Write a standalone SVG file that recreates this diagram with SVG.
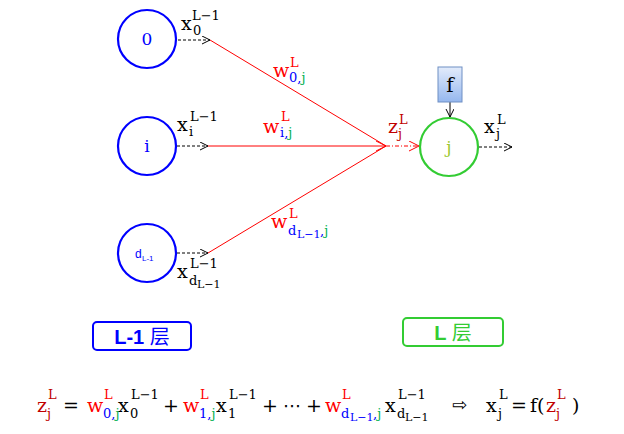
<svg xmlns="http://www.w3.org/2000/svg" width="624" height="434" viewBox="0 0 624 434">
<defs>
<marker id="ab" markerUnits="userSpaceOnUse" markerWidth="10" markerHeight="10" refX="8" refY="4" orient="auto">
<path d="M0,0 L8,4 L0,8" fill="none" stroke="#000" stroke-width="1"/>
</marker>
<marker id="ar" markerUnits="userSpaceOnUse" markerWidth="12" markerHeight="12" refX="10" refY="5" orient="auto">
<path d="M0,0 L10,5 L0,10" fill="none" stroke="#f00" stroke-width="1"/>
</marker>
<linearGradient id="fg" x1="0" y1="0" x2="0" y2="1">
<stop offset="0" stop-color="#e3ecfb"/>
<stop offset="1" stop-color="#95b7ee"/>
</linearGradient>
</defs>
<style>
.m{font-family:"DejaVu Serif","Liberation Serif",serif;font-size:19px}
.s{font-family:"DejaVu Serif","Liberation Serif",serif;font-size:13px}
.ss{font-family:"DejaVu Serif","Liberation Serif",serif;font-size:11px}
.k{fill:#000}
.r{fill:#f00}
.dr{fill:#c00000}
.b{fill:#00f}
.g{fill:#00b050}
.dash{stroke:#000;stroke-width:1;stroke-dasharray:3,2;fill:none}
.red{stroke:#f00;stroke-width:1;fill:none}
.bc{fill:#fff;stroke:#00f;stroke-width:2.2}
.gc{fill:#fff;stroke:#33cc33;stroke-width:2.2}
.lab{font-family:"Liberation Sans","Noto Sans CJK SC",sans-serif;font-size:20px}
</style>
<rect width="624" height="434" fill="#fff"/>

<g id="connectors">
<line class="dash" x1="178" y1="40" x2="210" y2="40" marker-end="url(#ab)"/>
<line class="dash" x1="177" y1="146" x2="208" y2="146" marker-end="url(#ab)"/>
<line class="dash" x1="177" y1="253" x2="208" y2="253" marker-end="url(#ab)"/>
<line class="red" x1="210" y1="40" x2="386" y2="146"/>
<line class="red" x1="208" y1="146" x2="386" y2="146" marker-end="url(#ar)"/>
<line class="red" x1="208" y1="253" x2="386" y2="146"/>
<line x1="386" y1="146" x2="419" y2="146" stroke="#f00" stroke-width="1" stroke-dasharray="4,2,1,2" marker-end="url(#ar)"/>
<line x1="450" y1="102" x2="450" y2="117" stroke="#000" stroke-width="1" marker-end="url(#ab)"/>
<line class="dash" x1="479" y1="147" x2="512" y2="147" marker-end="url(#ab)"/>
</g>

<g id="node-0">
<circle class="bc" cx="147" cy="39" r="29"/>
<text class="b" x="147" y="45" text-anchor="middle" font-family="DejaVu Serif,serif" font-size="17">0</text>
</g>
<g id="node-i">
<circle class="bc" cx="147" cy="146" r="29"/>
<text class="b" x="147" y="152" text-anchor="middle" font-family="DejaVu Serif,serif" font-size="17">i</text>
</g>
<g id="node-d">
<circle class="bc" cx="147" cy="253" r="29"/>
<text class="b" x="135" y="258" font-family="Liberation Sans,sans-serif" font-size="12">d</text>
<text class="b" x="142" y="261" font-family="Liberation Sans,sans-serif" font-size="8">L-1</text>
</g>
<g id="node-j">
<circle class="gc" cx="449" cy="147" r="29"/>
<text x="449" y="153" text-anchor="middle" font-family="DejaVu Serif,serif" font-size="17" fill="#9cc830">j</text>
</g>
<g id="node-f">
<rect x="438" y="67" width="24" height="35" fill="url(#fg)" stroke="#6f8fc4" stroke-width="1"/>
<text x="450" y="92" text-anchor="middle" font-family="DejaVu Serif,serif" font-size="20" fill="#000">f</text>
</g>

<g id="labels">
<text class="m k" x="181" y="30">x</text><text class="s k" x="193" y="35">0</text><text class="s k" x="192" y="20">L−1</text>
<text class="m k" x="177" y="131">x</text><text class="s k" x="189" y="136">i</text><text class="s k" x="190" y="121">L−1</text>
<text class="m k" x="177" y="278">x</text><text class="s k" x="190" y="268">L−1</text><text class="s k" x="189" y="285">d</text><text class="ss k" x="197" y="288">L−1</text>

<text class="m r" x="273" y="77">w</text><text class="s r" x="290" y="67">L</text><text class="s" x="289" y="82"><tspan class="b">0,</tspan><tspan class="g">j</tspan></text>
<text class="m r" x="263" y="133">w</text><text class="s r" x="281" y="121">L</text><text class="s" x="280" y="137"><tspan class="b">i,</tspan><tspan class="g">j</tspan></text>
<text class="m r" x="271" y="228">w</text><text class="s r" x="289" y="218">L</text><text class="s b" x="288" y="235">d</text><text class="ss b" x="297" y="238">L−1</text><text class="s" x="320" y="235"><tspan class="b">,</tspan><tspan class="g">j</tspan></text>

<text class="m dr" x="388" y="133">z</text><text class="s dr" x="399" y="124">L</text><text class="s dr" x="398" y="138">j</text>
<text class="m k" x="484" y="133">x</text><text class="s k" x="497" y="124">L</text><text class="s k" x="496" y="138">j</text>
</g>

<g id="box-L1">
<rect x="93" y="322" width="98" height="28" rx="4" fill="#fff" stroke="#00f" stroke-width="2"/>
<text class="lab" x="142" y="344" text-anchor="middle" fill="#00f"><tspan font-weight="bold">L-1 </tspan><tspan>层</tspan></text>
</g>
<g id="box-L">
<rect x="403" y="318" width="100" height="28" rx="4" fill="#fff" stroke="#33cc33" stroke-width="2"/>
<text class="lab" x="453" y="340" text-anchor="middle" fill="#33cc33"><tspan font-weight="bold">L </tspan><tspan>层</tspan></text>
</g>

<g id="formula">
<text class="m dr" x="37" y="412">z</text><text class="s dr" x="48" y="399">L</text><text class="s dr" x="47" y="418">j</text>
<text class="m k" x="63" y="412">=</text>
<text class="m r" x="87" y="412">w</text><text class="s r" x="104" y="399">L</text><text class="s" x="103" y="418"><tspan class="b">0,</tspan><tspan class="g">j</tspan></text>
<text class="m k" x="118" y="412">x</text><text class="s k" x="130" y="418">0</text><text class="s k" x="131" y="399">L−1</text>
<text class="m k" x="163" y="412">+</text>
<text class="m r" x="183" y="412">w</text><text class="s r" x="200" y="399">L</text><text class="s" x="199" y="418"><tspan class="b">1,</tspan><tspan class="g">j</tspan></text>
<text class="m k" x="216" y="412">x</text><text class="s k" x="228" y="418">1</text><text class="s k" x="229" y="399">L−1</text>
<text class="m k" x="262" y="412">+</text>
<text class="k" x="283" y="412" font-family="DejaVu Sans,sans-serif" font-size="18">⋯</text>
<text class="m k" x="306" y="412">+</text>
<text class="m r" x="325" y="412">w</text><text class="s r" x="342" y="399">L</text><text class="s b" x="341" y="418">d</text><text class="ss b" x="350" y="421">L−1</text><text class="s" x="373" y="418"><tspan class="b">,</tspan><tspan class="g">j</tspan></text>
<text class="m k" x="385" y="412">x</text><text class="s k" x="398" y="399">L−1</text><text class="s k" x="397" y="418">d</text><text class="ss k" x="405" y="421">L−1</text>
<text class="k" x="452" y="411" font-family="DejaVu Sans,sans-serif" font-size="18">⇨</text>
<text class="m k" x="486" y="412">x</text><text class="s k" x="499" y="399">L</text><text class="s k" x="498" y="418">j</text>
<text class="m k" x="511" y="412">=</text>
<text class="m k" x="530" y="412">f(</text>
<text class="m dr" x="546" y="412">z</text><text class="s dr" x="557" y="399">L</text><text class="s dr" x="556" y="418">j</text>
<text class="m k" x="572" y="412">)</text>
</g>
</svg>
